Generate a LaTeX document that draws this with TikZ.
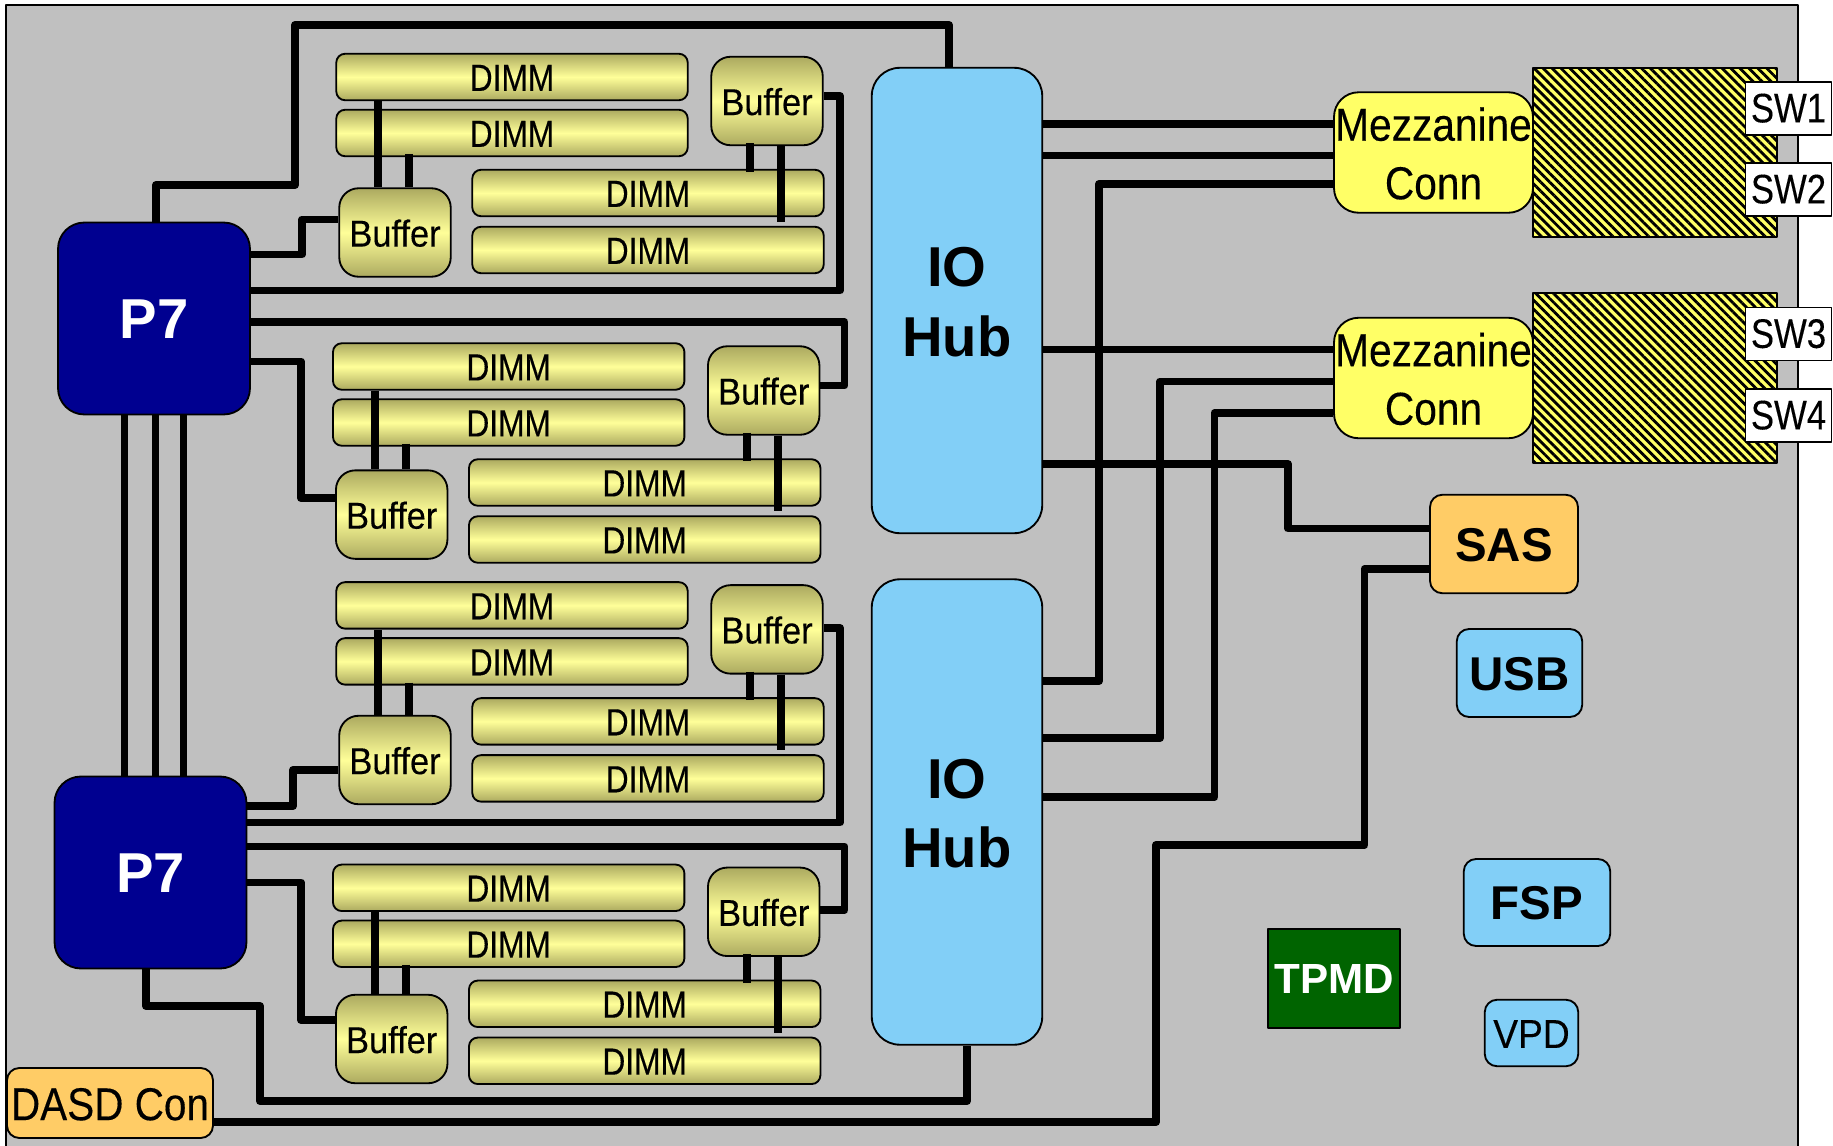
\documentclass[tikz,border=0pt]{standalone}
\usepackage{fontspec}
\setmainfont{Liberation Sans}
\newfontfamily\dimmfont[FakeStretch=0.84,FakeBold=0.25]{Liberation Sans}
\newfontfamily\bufffont[FakeStretch=0.92,FakeBold=0.25]{Liberation Sans}
\newfontfamily\connfont[FakeStretch=0.88,FakeBold=0.25]{Liberation Sans}
\usetikzlibrary{patterns.meta}
\usetikzlibrary{calc}

\definecolor{boardgray}{HTML}{C0C0C0}
\definecolor{cpublue}{HTML}{000090}
\definecolor{hubblue}{HTML}{82CFF7}
\definecolor{connyellow}{HTML}{FFFF66}
\definecolor{dimmlight}{HTML}{FFFF99}
\definecolor{dimmdark}{HTML}{ACAA60}
\definecolor{sasorange}{HTML}{FFCC66}
\definecolor{tpmgreen}{HTML}{006400}

\tikzset{
	part/.style={draw, line width=1.05pt, inner sep=0pt, align=center},
	wire/.style={line width=4.5pt},
	memory/.style={part, rounded corners=5pt, top color=dimmdark, bottom color=dimmdark, middle color=dimmlight},
	dimm/.style={memory, minimum width=7.03cm, minimum height=0.93cm, text height=15.8pt, text depth=0pt, font=\dimmfont\fontsize{21.5}{24}\selectfont},
	bufbox/.style={memory, rounded corners=11pt, minimum width=2.23cm, minimum height=1.77cm, text height=16pt, text depth=0pt, font=\bufffont\fontsize{21.3}{24}\selectfont},
	cpu/.style={part, rounded corners=15pt, fill=cpublue, text=white, minimum width=3.84cm, minimum height=3.84cm, text height=23.2pt, text depth=0pt, font=\bfseries\fontsize{32}{38}\selectfont},
	hub/.style={part, rounded corners=16pt, fill=hubblue, minimum width=3.41cm, minimum height=9.31cm, text height=63.2pt, text depth=0pt, font=\bfseries\fontsize{32}{39.3}\selectfont},
	mezz/.style={part, rounded corners=14pt, fill=connyellow, minimum width=3.98cm, minimum height=2.41cm, text height=53.2pt, text depth=0pt, font=\connfont\fontsize{26.3}{33.3}\selectfont},
	hatch/.style={draw, line width=1.2pt, inner sep=0pt, minimum width=4.88cm, minimum height=3.39cm, preaction={fill=connyellow}, pattern={Lines[angle=-45,distance=3.6pt,line width=1.6pt]}, pattern color=black},
	swbox/.style={part, line width=0.6pt, fill=white, minimum width=1.73cm, minimum height=1.06cm, text height=15.8pt, text depth=0pt, font=\dimmfont\fontsize{23.5}{26}\selectfont},
	io/.style={part, rounded corners=7pt, fill=hubblue, text height=19.5pt, text depth=0pt, font=\bfseries\fontsize{27}{32}\selectfont},
}

\begin{document}
\begin{tikzpicture}[x=0.02cm, y=-0.02cm, line cap=butt, line join=round]
	\useasboundingbox (0,0) rectangle (1833,1146);
	\clip (0,0) rectangle (1833,1146);
	% board
	\draw [fill=boardgray, line width=0.9pt] (6,5) rectangle (1798,1170);
	% processors
	\node[cpu] (cpua) at (154,318.5) {P7};
	\node[cpu] (cpub) at (150.5,872.5) {P7};
	% hubs
	\node[hub] (huba) at (957,300.5) {IO\\Hub};
	\node[hub] (hubb) at (957,812) {IO\\Hub};
	% mezzanine connectors with their cards
	\node[hatch] (carda) at (1655,152.5) {};
	\node[hatch] (cardb) at (1655,378) {};
	\node[mezz] (mezza) at (1433.5,152.5) {Mezzanine\\Conn};
	\node[mezz] (mezzb) at (1433.5,378) {Mezzanine\\Conn};
	\node[swbox] (swa) at (1788.5,108.5) {SW1};
	\node[swbox] (swb) at (1788.5,189.5) {SW2};
	\node[swbox] (swc) at (1788.5,334) {SW3};
	\node[swbox] (swd) at (1788.5,415.5) {SW4};
	% other parts
	\node[io, fill=sasorange, minimum width=2.96cm, minimum height=1.97cm] (sas) at (1504,544) {SAS};
	\node[io, minimum width=2.51cm, minimum height=1.76cm] (usb) at (1519.5,673) {USB};
	\node[io, minimum width=2.93cm, minimum height=1.74cm] (fsp) at (1537,902.5) {FSP};
	\node[io, minimum width=1.87cm, minimum height=1.33cm, text height=17pt, font=\bufffont\fontsize{23}{26}\selectfont] (vpd) at (1531.5,1033) {VPD};
	\node[part, fill=tpmgreen, text=white, minimum width=2.65cm, minimum height=1.97cm, font=\bfseries\fontsize{24}{28}\selectfont] (tpmd) at (1334,978.5) {TPMD};
	\node[io, fill=sasorange, minimum width=4.12cm, minimum height=1.4cm, text height=19.5pt, font=\connfont\fontsize{26.2}{30}\selectfont] (dasd) at (110,1103) {DASD Con};
	% memory groups
	\foreach \g/\gx/\gy/\by in {1/0/0/232.5, 2/-3.3/289.5/514.6, 3/0/528.4/760, 4/-3.3/810.8/1039} {
		\node[dimm] (dimma\g) at (512+\gx,77+\gy) {DIMM};
		\node[dimm] (dimmb\g) at (512+\gx,133+\gy) {DIMM};
		\node[dimm] (dimmc\g) at (648+\gx,193+\gy) {DIMM};
		\node[dimm] (dimmd\g) at (648+\gx,250+\gy) {DIMM};
		\node[bufbox] (bufl\g) at (395+\gx,\by) {Buffer};
		\node[bufbox] (bufr\g) at (767+\gx,101+\gy) {Buffer};
		% stubs
		\path (dimma\g.south west) ++(42.5,0) coordinate (sa\g);
		\path (dimmb\g.south west) ++(74,0) coordinate (sb\g);
		\path (bufr\g.south west) ++(40,0) coordinate (sc\g);
		\path (bufr\g.south west) ++(71,0) coordinate (sd\g);
		\draw[wire] (sa\g) -- (sa\g |- bufl\g.north);
		\draw[wire] ($(sb\g)+(0,-3)$) -- (sb\g |- bufl\g.north);
		\draw[wire] ($(sc\g)+(0,-3)$) -- ($(sc\g |- dimmc\g.north)+(0,3)$);
		\draw[wire] (sd\g) -- ($(sd\g |- dimmd\g.north)+(0,-4)$);
	}
	% processor links
	\draw[wire] (cpua.south -| 124.5,0) -- (124.5,0 |- cpub.north);
	\draw[wire] (cpua.south -| 155.5,0) -- (155.5,0 |- cpub.north);
	\draw[wire] (cpua.south -| 183.5,0) -- (183.5,0 |- cpub.north);
	% upper processor
	\draw[wire] (156,0 |- cpua.north) |- (295,185) |- (949,25) -- (949,0 |- huba.north);
	\draw[wire] (cpua.east |- 0,254.5) -| (302,219.5) -- (bufl1.west |- 0,219.5);
	\draw[wire] (cpua.east |- 0,290.5) -| (840,96) -- (bufr1.east |- 0,96);
	\draw[wire] (cpua.east |- 0,322) -| (844.5,385.5) -- (bufr2.east |- 0,385.5);
	\draw[wire] (cpua.east |- 0,361.5) -| (301,498) -- (bufl2.west |- 0,498);
	% lower processor
	\draw[wire] (cpub.east |- 0,806) -| (293,770) -- (bufl3.west |- 0,770);
	\draw[wire] (cpub.east |- 0,822.5) -| (840,628) -- (bufr3.east |- 0,628);
	\draw[wire] (cpub.east |- 0,846.5) -| (844.5,910) -- (bufr4.east |- 0,910);
	\draw[wire] (cpub.east |- 0,882.5) -| (301,1020) -- (bufl4.west |- 0,1020);
	\draw[wire] (146,0 |- cpub.south) |- (260,1006) |- (967,1101) -- (967,0 |- hubb.south);
	% hubs to connectors
	\draw[wire] (huba.east |- 0,124) -- (mezza.west |- 0,124);
	\draw[wire] (huba.east |- 0,155.5) -- (mezza.west |- 0,155.5);
	\draw[wire] (hubb.east |- 0,681) -| (1099,184) -- (mezza.west |- 0,184);
	\draw[wire] (huba.east |- 0,349.5) -- (mezzb.west |- 0,349.5);
	\draw[wire] (hubb.east |- 0,738) -| (1160,381.5) -- (mezzb.west |- 0,381.5);
	\draw[wire] (hubb.east |- 0,797) -| (1214.5,413) -- (mezzb.west |- 0,413);
	% sas
	\draw[wire] (huba.east |- 0,464) -| (1288,528.5) -- (sas.west |- 0,528.5);
	\draw[wire] (dasd.east |- 0,1122) -| (1156,845) -| (1364.5,569) -- (sas.west |- 0,569);
\end{tikzpicture}
\end{document}
